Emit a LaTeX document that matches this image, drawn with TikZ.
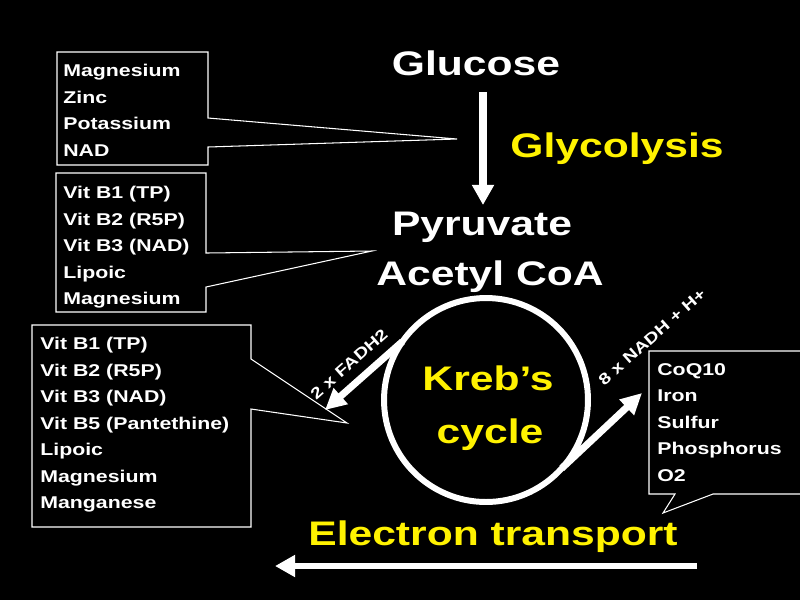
\documentclass[tikz,border=0pt]{standalone}
\usepackage{fontspec}
\setmainfont{Liberation Sans}[FakeStretch=1.25]
\usetikzlibrary{arrows.meta}
\usetikzlibrary{calc}

\begin{document}
\begin{tikzpicture}[x=0.02cm, y=-0.02cm,
    bigtext/.style={font=\fontsize{19.4}{30}\selectfont\bfseries, text=white, inner sep=0pt, anchor=base},
    bigyellow/.style={bigtext, text=yellow},
    listtext/.style={font=\fontsize{9.7}{15.1}\selectfont\bfseries, text=white, align=left, inner sep=0pt, anchor=north west},
    tagtext/.style={font=\fontsize{8.9}{10}\selectfont\bfseries, text=white, inner sep=0pt},
    callout/.style={draw=white, line width=0.6pt, line join=miter},
    flow/.style={draw=white, line width=4.5pt, -{Triangle[length=11.5pt, width=12pt]}},
    sideflow/.style={draw=white, line width=4pt, -{Triangle[length=12pt, width=11.5pt]}},
    ring/.style={draw=white, line width=3.4pt, circle, minimum size=4.08cm, inner sep=0pt, outer sep=0pt}]

    \fill[black] (0,0) rectangle (800,600);
    \useasboundingbox (0,0) rectangle (800,600);

    % main pathway
    \node[bigtext] (glucose) at (476,75) {Glucose};
    \node[bigyellow] (glycolysis) at (617,157) {Glycolysis};
    \node[bigtext] (pyruvate) at (482,235) {Pyruvate};
    \node[bigtext] (acetyl) at (490,285) {Acetyl CoA};

    \coordinate (glyStart) at (483,92);
    \coordinate (glyEnd) at (483,205);
    \draw[flow] (glyStart) -- (glyEnd);

    % Kreb's cycle
    \node[ring] (ring) at (486,400) {};
    \node[bigyellow] (krebs) at (488,390) {Kreb’s};
    \node[bigyellow] (cycle) at (490,443) {cycle};

    \coordinate (fadTip) at (325,410);
    \coordinate (nadTip) at (642,393);
    \draw[sideflow] (ring.145) -- (fadTip);
    \draw[sideflow] (ring.-42) -- (nadTip);
    \node[tagtext, rotate=41.5] (fadh) at (349,364) {2 x FADH2};
    \node[tagtext, rotate=41.5] (nadh) at (652,337) {8 x NADH + H+};

    % electron transport
    \node[bigyellow] (etrans) at (493,545) {Electron transport};
    \coordinate (etStart) at (697,566);
    \coordinate (etEnd) at (275,566);
    \draw[flow, line width=3.8pt] (etStart) -- (etEnd);

    % cofactor callouts
    \node[listtext] (glyList) at (63,64) {Magnesium\\Zinc\\Potassium\\NAD};
    \coordinate (glyPoint) at (457,139);
    \draw[callout] (57,52) -- (208,52) -- (208,118) -- (glyPoint) -- (208,147) -- (208,165) -- (57,165) -- cycle;

    \node[listtext] (pdhList) at (63,186) {Vit B1 (TP)\\Vit B2 (R5P)\\Vit B3 (NAD)\\Lipoic\\Magnesium};
    \coordinate (pdhPoint) at (372,251);
    \draw[callout] (56,173) -- (206,173) -- (206,253) -- (pdhPoint) -- (206,287) -- (206,312) -- (56,312) -- cycle;

    \node[listtext] (tcaList) at (40,337) {Vit B1 (TP)\\Vit B2 (R5P)\\Vit B3 (NAD)\\Vit B5 (Pantethine)\\Lipoic\\Magnesium\\Manganese};
    \coordinate (tcaPoint) at (347,423);
    \draw[callout] (32,325) -- (251,325) -- (251,359) -- (tcaPoint) -- (251,409) -- (251,527) -- (32,527) -- cycle;

    \node[listtext] (etcList) at (657,363) {CoQ10\\Iron\\Sulfur\\Phosphorus\\O2};
    \coordinate (etcPoint) at (663,513);
    \draw[callout] (649,351) -- (805,351) -- (805,494) -- (713,494) -- (etcPoint) -- (675,494) -- (649,494) -- cycle;
\end{tikzpicture}
\end{document}
